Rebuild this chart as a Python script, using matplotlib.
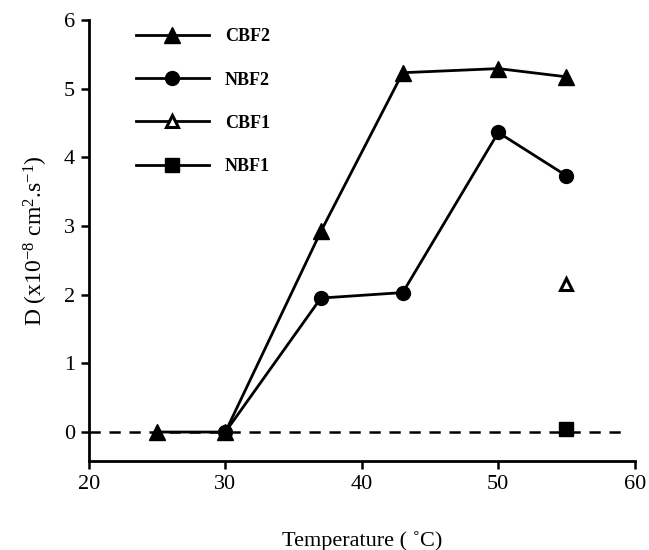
import matplotlib.pyplot as plt

plt.rcParams['font.family'] = ['Liberation Serif', 'DejaVu Serif']
plt.rcParams['mathtext.fontset'] = 'custom'
plt.rcParams['mathtext.rm'] = 'Liberation Serif'
plt.rcParams['mathtext.it'] = 'Liberation Serif:italic'

# data
cbf2_t = [25, 30, 37, 43, 50, 55]
cbf2_d = [0.0, 0.0, 2.92, 5.23, 5.29, 5.17]

nbf2_t = [30, 37, 43, 50, 55]
nbf2_d = [0.0, 1.95, 2.03, 4.36, 3.73]

cbf1_t = [55]
cbf1_d = [2.16]

nbf1_t = [55]
nbf1_d = [0.04]

baseline_t = [20, 59]
baseline_d = [0, 0]

fig = plt.figure(figsize=(6.49, 5.5), dpi=100)
ax = fig.add_axes([0.137, 0.162, 0.841, 0.802])

# dashed zero line
ax.plot(baseline_t, baseline_d, color='black', lw=1.8, ls=(0, (4.5, 3.5)), zorder=1)

ax.plot(cbf2_t, cbf2_d, '-^', color='black', lw=2, ms=11, label='CBF2', zorder=3)
ax.plot(nbf2_t, nbf2_d, '-o', color='black', lw=2, ms=10, label='NBF2', zorder=3)
ax.plot(cbf1_t, cbf1_d, '-^', color='black', lw=2, ms=9, mfc='white', mew=2.2, label='CBF1', zorder=3)
ax.plot(nbf1_t, nbf1_d, '-s', color='black', lw=2, ms=9.5, label='NBF1', zorder=3)

ax.set_xlim(20, 60)
ax.set_ylim(-0.42, 6)
ax.set_xticks([20, 30, 40, 50, 60])
ax.set_yticks([0, 1, 2, 3, 4, 5, 6])

for s in ['top', 'right']:
    ax.spines[s].set_visible(False)
for s in ['left', 'bottom']:
    ax.spines[s].set_linewidth(2)

ax.tick_params(axis='both', direction='out', length=6, width=1.8, labelsize=16, pad=4)

ax.set_xlabel('Temperature ( ˚C)', fontsize=16, labelpad=27)
ax.set_ylabel('D (x10$^{-8}$ cm$^{2}$.s$^{-1}$)', fontsize=17, labelpad=10)

ax.legend(loc='upper left', bbox_to_anchor=(0.185, 0.978), bbox_transform=fig.transFigure,
          frameon=False, prop={'size': 13, 'weight': 'bold'}, handlelength=4.0,
          handletextpad=0.9, labelspacing=1.45, numpoints=1)

fig.savefig('out.png', dpi=100)
